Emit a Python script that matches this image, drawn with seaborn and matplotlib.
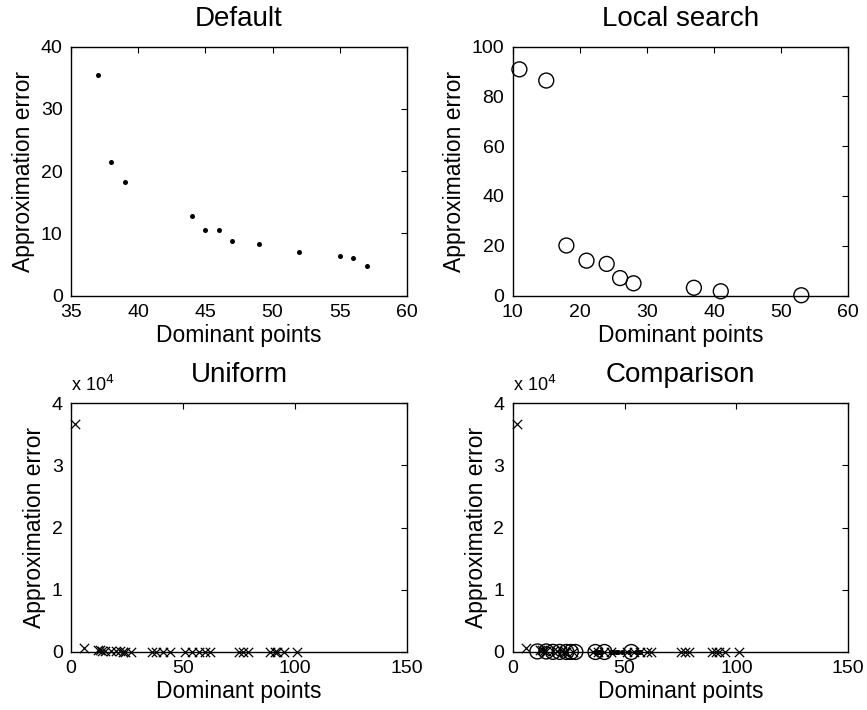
import matplotlib
matplotlib.use('Agg')
import matplotlib.pyplot as plt
from matplotlib.ticker import FuncFormatter
import pandas as pd
import seaborn as sns

# values
default_points = [37, 38, 39, 44, 45, 46, 47, 49, 52, 55, 56, 57]
default_error = [35.5, 21.4, 18.2, 12.8, 10.6, 10.6, 8.7, 8.2, 7.0, 6.3, 6.0, 4.8]

local_points = [11, 15, 18, 21, 24, 26, 28, 37, 41, 53]
local_error = [90.9, 86.4, 20.1, 14.0, 12.7, 7.0, 4.9, 3.1, 1.7, 0.1]

uniform_points = [2, 6, 12, 13, 14, 15, 18, 20, 22, 23, 24, 27, 36, 38, 41, 44,
                  51, 54, 57, 60, 62, 75, 77, 79, 89, 91, 92, 95, 101]
uniform_error = [36700, 700, 350, 300, 200, 150, 120, 100, 90, 80, 70, 50, 40, 35,
                 30, 25, 20, 18, 15, 12, 10, 8, 7, 6, 5, 4, 3, 2, 1]

sns.set_theme(style="white")
plt.rcParams['font.family'] = ['Liberation Sans', 'DejaVu Sans']
plt.rcParams.update({'text.color': 'black', 'axes.labelcolor': 'black',
                     'xtick.color': 'black', 'ytick.color': 'black'})

df_default = pd.DataFrame({'x': default_points, 'y': default_error})
df_local = pd.DataFrame({'x': local_points, 'y': local_error})
df_uniform = pd.DataFrame({'x': uniform_points, 'y': uniform_error})

fig = plt.figure(figsize=(8.67, 7.10), dpi=100)
W, H = 867, 710
cols = [(71, 336), (512.7, 335.6)]
rows = [(46.7, 295.5), (403.3, 652)]
axes = []
for top, bottom in rows:
    for left, width in cols:
        axes.append(fig.add_axes([left / W, 1 - bottom / H, width / W, (bottom - top) / H]))
ax_def, ax_loc, ax_uni, ax_cmp = axes


def draw_default(ax, **kw):
    sns.scatterplot(data=df_default, x='x', y='y', ax=ax, marker='o', s=13,
                    color='black', edgecolor='black', linewidth=0, **kw)


def draw_local(ax, **kw):
    sns.scatterplot(data=df_local, x='x', y='y', ax=ax, marker='o', s=115,
                    facecolor='none', edgecolor='black', linewidth=1.0, **kw)


def draw_uniform(ax, **kw):
    sns.scatterplot(data=df_uniform, x='x', y='y', ax=ax, marker='x', s=45,
                    color='black', linewidth=0.9, **kw)


draw_default(ax_def)
ax_def.set_xlim(35, 60)
ax_def.set_ylim(0, 40)
ax_def.set_xticks([35, 40, 45, 50, 55, 60])
ax_def.set_yticks([0, 10, 20, 30, 40])
ax_def.set_title('Default')

draw_local(ax_loc)
ax_loc.set_xlim(10, 60)
ax_loc.set_ylim(0, 100)
ax_loc.set_xticks([10, 20, 30, 40, 50, 60])
ax_loc.set_yticks([0, 20, 40, 60, 80, 100])
ax_loc.set_title('Local search')

draw_uniform(ax_uni)
ax_uni.set_title('Uniform')

draw_uniform(ax_cmp)
draw_local(ax_cmp)
draw_default(ax_cmp)
ax_cmp.set_title('Comparison')

for ax in (ax_uni, ax_cmp):
    ax.set_xlim(0, 150)
    ax.set_ylim(0, 40000)
    ax.set_xticks([0, 50, 100, 150])
    ax.set_yticks([0, 10000, 20000, 30000, 40000])
    ax.yaxis.set_major_formatter(FuncFormatter(lambda v, p: f'{v / 1e4:g}'))
    ax.text(0.0, 1.035, r'x 10$^{4}$', transform=ax.transAxes, fontsize=13,
            ha='left', va='bottom')

for ax in axes:
    ax.set_xlabel('Dominant points', fontsize=16.5, labelpad=2)
    ax.set_ylabel('Approximation error', fontsize=16.5, labelpad=4)
    ax.set_title(ax.get_title(), fontsize=20, pad=15)
    ax.tick_params(direction='in', top=True, right=True, labelsize=14,
                   length=4, width=0.8, color='black', pad=6)
    for s in ax.spines.values():
        s.set_color('black')
        s.set_linewidth(1.0)
    for c in ax.collections:
        c.set_clip_on(False)

fig.savefig('out.png', dpi=100)
